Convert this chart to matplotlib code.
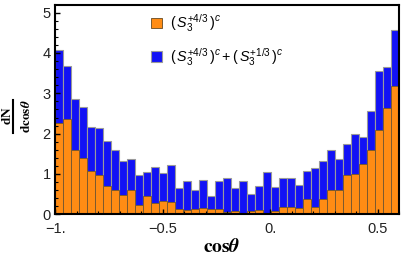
import numpy as np
import matplotlib
matplotlib.use("Agg")
import matplotlib.pyplot as plt
from matplotlib.lines import Line2D

plt.rcParams['font.family'] = ['Liberation Sans', 'DejaVu Sans']
plt.rcParams['mathtext.fontset'] = 'custom'
plt.rcParams['mathtext.rm'] = 'Liberation Sans'
plt.rcParams['mathtext.it'] = 'Liberation Sans:italic'
plt.rcParams['mathtext.bf'] = 'Liberation Sans:bold'

# data
x_min, x_max = -1.0, 0.6
n_bins = 43
total = [4.08, 3.68, 2.87, 2.66, 2.17, 2.13, 1.82, 1.60, 1.33, 1.37,
         0.975, 1.06, 1.17, 1.02, 1.22, 0.64, 0.82, 0.60, 0.85, 0.45,
         0.82, 0.90, 0.64, 0.83, 0.50, 0.70, 1.05, 0.67, 0.90, 0.91,
         0.73, 1.08, 1.15, 1.32, 1.60, 1.36, 1.74, 2.00, 1.92, 2.55,
         3.56, 3.66, 4.56]
s43 = [2.26, 2.37, 1.60, 1.39, 1.08, 0.97, 0.71, 0.60, 0.47, 0.61,
       0.23, 0.45, 0.27, 0.34, 0.31, 0.13, 0.11, 0.14, 0.15, 0.12,
       0.12, 0.06, 0.07, 0.02, 0.07, 0.11, 0.03, 0.07, 0.17, 0.19,
       0.15, 0.39, 0.17, 0.37, 0.61, 0.61, 0.97, 1.01, 1.24, 1.59,
       2.10, 2.63, 3.19]
xticks = [-1.0, -0.5, 0.0, 0.5]
xticklabels = ["\u22121.", "\u22120.5", "0.", "0.5"]
yticks = [0, 1, 2, 3, 4, 5]
label_orange = r"$(\,S_3^{+4/3}\,)^c$"
label_blue = r"$(\,S_3^{+4/3}\,)^c + (\,S_3^{+1/3}\,)^c$"
ylabel_num = r"$\mathbf{dN}$"
ylabel_den = r"$\mathbf{dcos}\boldsymbol{\theta}$"
xlabel = r"$\mathbf{cos}\boldsymbol{\theta}$"

W, H = 402, 259
edges = np.linspace(x_min, x_max, n_bins + 1)
width = edges[1] - edges[0]

fig = plt.figure(figsize=(W/100, H/100), dpi=100)
ax = fig.add_axes([55.5/W, 1 - 214.3/H, (399.3-55.5)/W, (214.3-5)/H])

blue = ax.bar(edges[:-1], total, width=width, align='edge', color='#1212F5',
              edgecolor='#9a9a9a', linewidth=0.8, zorder=1)
orange = ax.bar(edges[:-1], s43, width=width, align='edge', color='#FF8C14',
                edgecolor='#7a5a30', linewidth=0.7, zorder=2)

ax.set_xlim(x_min, x_max)
ax.set_ylim(0, 5.19)
ax.set_xticks(xticks)
ax.set_xticklabels(xticklabels)
ax.set_yticks(yticks)
ax.set_xticks(np.arange(-1.0, 0.61, 0.1), minor=True)
ax.set_yticks(np.arange(0, 5.2, 0.2), minor=True)
ax.tick_params(axis='both', which='major', direction='in', length=3.5, width=1.0,
               labelsize=10.5, labelcolor='#222222', zorder=5)
ax.tick_params(axis='x', which='major', pad=5.5)
ax.tick_params(axis='y', which='major', pad=3.5)
ax.tick_params(axis='both', which='minor', direction='in', length=2, width=0.8)
for sp in ax.spines.values():
    sp.set_linewidth(1.5)
    sp.set_zorder(6)
ax.set_axisbelow(False)

ax.set_xlabel(xlabel, fontsize=14, math_fontfamily='stix')
ax.xaxis.set_label_coords(0.484, -0.112)

# y label as a Mathematica-style fraction
fig.text(7.5/W, 1 - 116/H, ylabel_num, rotation=90, ha='center', va='center',
         fontsize=9.5, math_fontfamily='stix')
fig.text(27/W, 1 - 116/H, ylabel_den, rotation=90, ha='center', va='center',
         fontsize=9.5, math_fontfamily='stix')
fig.add_artist(Line2D([13.5/W, 13.5/W], [1 - 100/H, 1 - 133/H], color='black',
                      linewidth=1.5, transform=fig.transFigure))

leg = ax.legend([orange, blue], [label_orange, label_blue], loc='upper left',
                bbox_to_anchor=(0.278, 0.965), frameon=False, fontsize=10.3,
                handlelength=0.75, handleheight=0.75, handletextpad=0.6,
                labelspacing=0.8, borderpad=0, borderaxespad=0)

fig.savefig("out.png", dpi=100)
